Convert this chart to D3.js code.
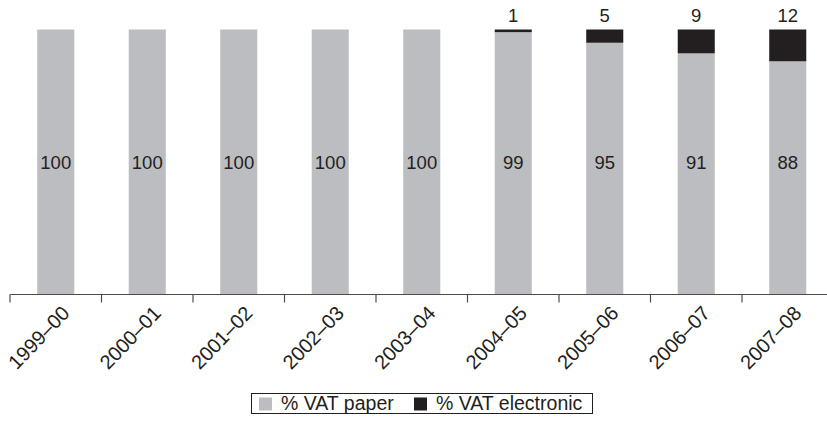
<!DOCTYPE html>
<html>
<head>
<meta charset="utf-8">
<script src="https://cdn.jsdelivr.net/npm/d3@7"></script>
<style>
  html, body { margin: 0; padding: 0; background: #fff; }
  text { font-family: "Liberation Sans", Arial, sans-serif; fill: #231f20; }
</style>
</head>
<body>
<svg id="chart" width="827" height="422"></svg>
<script>
// Share of VAT returns filed on paper vs electronically, by tax year
const years = ["1999–00", "2000–01", "2001–02", "2002–03", "2003–04", "2004–05", "2005–06", "2006–07", "2007–08"];
const paper = [100, 100, 100, 100, 100, 99, 95, 91, 88];
const electronic = [0, 0, 0, 0, 0, 1, 5, 9, 12];
const seriesNames = ["% VAT paper", "% VAT electronic"];
const colors = ["#bcbdc1", "#231f20"];

const svg = d3.select("#chart");
const axisY = 294.5;

const x = d3.scaleBand()
  .domain(years)
  .range([10, 833.5])
  .paddingInner(0.595)
  .paddingOuter(0.2975);

const y = d3.scaleLinear().domain([0, 100]).range([axisY, 29.5]);

const rows = years.map((yr, i) => ({ year: yr, paper: paper[i], electronic: electronic[i] }));
const stack = d3.stack().keys(["paper", "electronic"]);
const layers = stack(rows);

svg.append("g").selectAll("g")
  .data(layers)
  .join("g")
  .attr("fill", (d, i) => colors[i])
  .selectAll("rect")
  .data(d => d)
  .join("rect")
  .attr("x", d => x(d.data.year))
  .attr("width", x.bandwidth())
  .attr("y", d => y(d[1]))
  .attr("height", d => y(d[0]) - y(d[1]));

// paper share, printed mid-bar
svg.append("g").selectAll("text")
  .data(rows)
  .join("text")
  .attr("x", d => x(d.year) + x.bandwidth() / 2)
  .attr("y", y(50))
  .attr("dy", "0.36em")
  .attr("text-anchor", "middle")
  .style("font-size", "18.5px")
  .text(d => d.paper);

// electronic share, printed above the bar
svg.append("g").selectAll("text")
  .data(rows.filter(d => d.electronic > 0))
  .join("text")
  .attr("x", d => x(d.year) + x.bandwidth() / 2)
  .attr("y", y(100) - 7.5)
  .attr("text-anchor", "middle")
  .style("font-size", "18.5px")
  .text(d => d.electronic);

// x axis: baseline with ticks at category boundaries
const boundaries = years.map(yr => x(yr) - x.step() * x.paddingOuter());
const axisG = svg.append("g").attr("stroke", "#4d4d4f");
axisG.append("line")
  .attr("x1", 10).attr("x2", 827)
  .attr("y1", axisY).attr("y2", axisY)
  .attr("stroke-width", 1.2);
axisG.selectAll("line.tick")
  .data(boundaries)
  .join("line")
  .attr("class", "tick")
  .attr("x1", d => d).attr("x2", d => d)
  .attr("y1", axisY).attr("y2", axisY + 8)
  .attr("stroke-width", 1.2);

svg.append("g").selectAll("text")
  .data(years)
  .join("text")
  .attr("transform", d => `translate(${x(d) + x.bandwidth() / 2 + 10},${axisY + 15}) rotate(-46)`)
  .attr("text-anchor", "end")
  .attr("dy", "0.35em")
  .style("font-size", "20px")
  .text(d => d);

// legend
const legend = svg.append("g");
legend.append("rect")
  .attr("x", 251.5).attr("y", 393.5)
  .attr("width", 341).attr("height", 20)
  .attr("fill", "none").attr("stroke", "#231f20").attr("stroke-width", 1);
const legendItems = [{ x: 259, tx: 281 }, { x: 414, tx: 436 }];
legendItems.forEach((it, i) => {
  legend.append("rect")
    .attr("x", it.x).attr("y", 397.5)
    .attr("width", 13).attr("height", 13)
    .attr("fill", colors[i]);
  legend.append("text")
    .attr("x", it.tx).attr("y", 410)
    .style("font-size", "19.5px")
    .text(seriesNames[i]);
});
</script>
</body>
</html>
